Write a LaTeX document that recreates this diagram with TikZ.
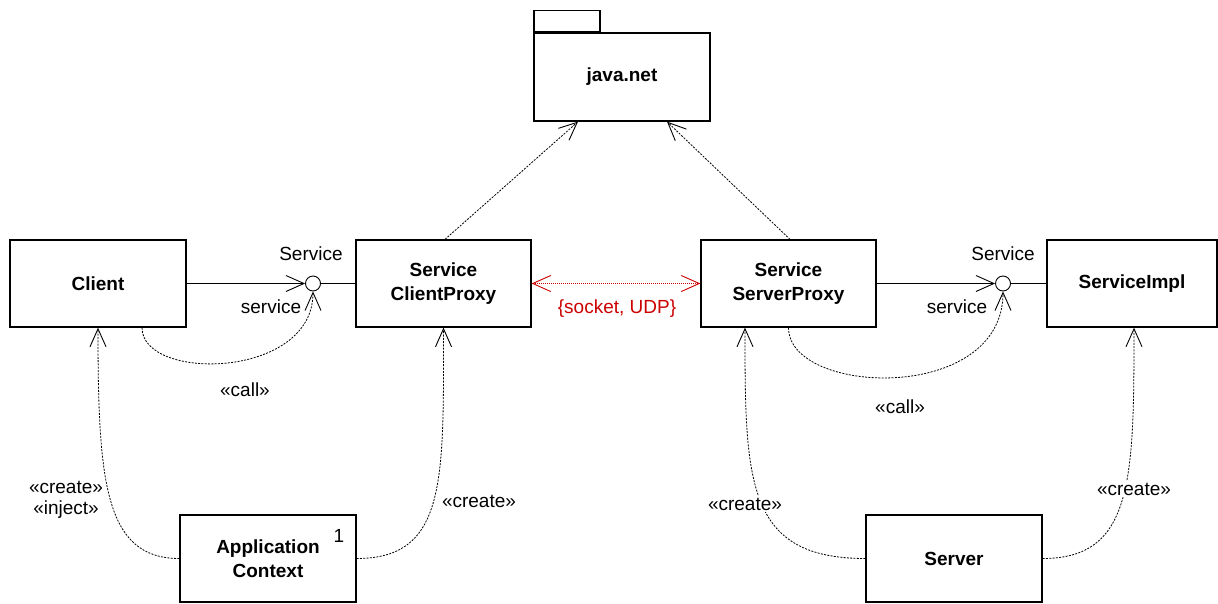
\documentclass[tikz,border=0pt]{standalone}
\usepackage{fontspec}
\setmainfont{Liberation Sans}
\usetikzlibrary{arrows.meta}
\definecolor{linkred}{RGB}{204,0,0}
\begin{document}
\begin{tikzpicture}[x=1pt,y=-1pt,
  every node/.style={font=\fontsize{19}{23}\selectfont},
  classbox/.style={draw, line width=1.3pt, minimum width=176pt, minimum height=87pt,
    align=center, inner sep=0pt, font=\fontsize{19}{24}\selectfont\bfseries},
  lolli/.style={draw, circle, minimum size=15pt, inner sep=0pt, line width=0.9pt, fill=white},
  iface/.style={line width=0.9pt},
  dep/.style={line width=0.8pt, dash pattern=on 2pt off 1.3pt},
  vtip/.style={-{Straight Barb[length=18pt,width=16pt,line width=0.9pt]}},
  lbl/.style={inner sep=0pt, align=center},
  onlbl/.style={lbl, fill=white, inner sep=1.5pt}]

\useasboundingbox (0,0) rectangle (1218,603);

% classes
\node[classbox] (client) at (98,283.5) {Client};
\node[classbox, minimum width=175pt] (cproxy) at (443.5,283.5) {Service\\ClientProxy};
\node[classbox, minimum width=175pt] (sproxy) at (788.5,283.5) {Service\\ServerProxy};
\node[classbox, minimum width=170pt] (impl) at (1132,283.5) {ServiceImpl};
\node[classbox] (appctx) at (268,558.5) {Application\\Context};
\node[classbox] (server) at (954,558.5) {Server};

% package java.net
\node[classbox, minimum height=88pt] (javanet) at (622,77) {java.net};
\node[draw, line width=1.3pt, minimum width=66pt, minimum height=21pt, inner sep=0pt,
  anchor=south west] (tab) at (javanet.north west) {};

% provided interfaces
\node[lolli] (ciface) at (313,283.5) {};
\node[lolli] (siface) at (1003,283.5) {};

\draw[iface] (ciface) -- (cproxy.west);
\draw[iface, vtip] (client.east) -- (ciface.west);
\draw[iface] (siface) -- (impl.west);
\draw[iface, vtip] (sproxy.east) -- (siface.west);

\node[lbl] at (311,254) {Service};
\node[lbl] at (271,307) {service};
\node[lbl] at (1003,254) {Service};
\node[lbl] at (957,307) {service};

% call dependencies
\draw[dep, vtip] ([xshift=44pt]client.south) .. controls +(0,54) and +(0,88) .. (ciface.south);
\draw[dep, vtip] (sproxy.south) .. controls +(0,68) and +(0,113) .. (siface.south);
\node[lbl] at (245,390) {«call»};
\node[lbl] at (900,407) {«call»};

% use of java.net
\draw[dep, vtip] ([xshift=1.5pt]cproxy.north) -- ([xshift=-44pt]javanet.south);
\draw[dep, vtip] ([xshift=1.5pt]sproxy.north) -- ([xshift=45pt]javanet.south);

% network link
\draw[linkred, line width=0.9pt, dash pattern=on 1pt off 1pt,
  {Straight Barb[length=18pt,width=16pt,line width=0.9pt]}-{Straight Barb[length=18pt,width=16pt,line width=0.9pt]}]
  (cproxy.east) -- (sproxy.west);
\node[lbl, text=linkred] at (617,309) {\{socket, UDP\}};

% creation dependencies
\draw[dep, vtip] (appctx.west) .. controls +(-75,0) and +(0,153) .. (client.south);
\draw[dep, vtip] (appctx.east) .. controls +(90,0) and +(0,153) .. (cproxy.south);
\draw[dep, vtip] (server.west) .. controls +(-120,0) and +(0,153) .. ([xshift=-43.5pt]sproxy.south);
\draw[dep, vtip] (server.east) .. controls +(90,0) and +(0,153) .. ([xshift=2pt]impl.south);

\node[lbl, font=\fontsize{19}{21}\selectfont] at (66,500) {«create»\\«inject»};
\node[onlbl] at (479,501) {«create»};
\node[onlbl] at (745,504) {«create»};
\node[onlbl] at (1134,489) {«create»};
\node[lbl] at (339,536) {1};

\end{tikzpicture}
\end{document}
